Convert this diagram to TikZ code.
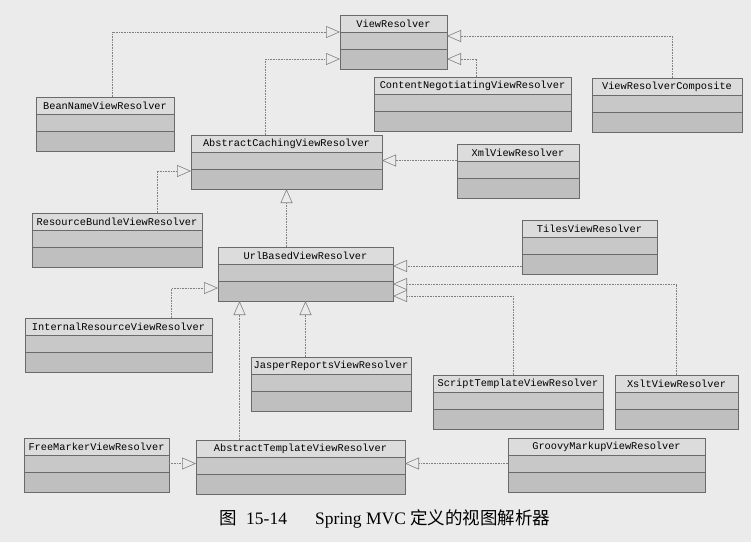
\documentclass[tikz,border=0pt]{standalone}
\usepackage{fontspec}
\setmainfont{Liberation Serif}
\setmonofont{Liberation Mono}
\newfontfamily\cjk{Noto Sans CJK SC}
\usetikzlibrary{positioning,arrows.meta}

\definecolor{paper}{HTML}{EBEBEB}
\definecolor{hdfill}{HTML}{DCDCDC}
\definecolor{mdfill}{HTML}{C8C8C8}
\definecolor{btfill}{HTML}{BFBFBF}
\definecolor{edge}{HTML}{6A6A6A}
\definecolor{link}{HTML}{808080}

% class box: name, left, top, width, label
\newcommand{\umlclass}[5]{%
  \node[hd, minimum width=#4pt, anchor=north west] (#1) at (#2,#3) {#5};
  \node[md, minimum width=#4pt, below=0pt of #1] (#1-m) {};
  \node[bt, minimum width=#4pt, below=0pt of #1-m] (#1-b) {};
}

\begin{document}
\begin{tikzpicture}[x=1pt, y=-1pt,
    font=\ttfamily\fontsize{10.3}{12}\selectfont,
    box/.style={draw=edge, line width=0.6pt, inner sep=0pt, outer sep=0pt},
    hd/.style={box, fill=hdfill, minimum height=17pt},
    md/.style={box, fill=mdfill, minimum height=17pt},
    bt/.style={box, fill=btfill, minimum height=20pt},
    gen/.style={draw=link, densely dotted, line width=0.6pt,
      -{Triangle[fill=paper, length=14pt, width=12pt]}}]
    \fill[paper] (0,0) rectangle (751,542);
    \useasboundingbox (0,0) rectangle (751,542);

    \umlclass{vr}{340}{15}{107}{ViewResolver}
    \umlclass{bn}{36}{97}{138}{BeanNameViewResolver}
    \umlclass{cn}{374}{77}{197}{ContentNegotiatingViewResolver}
    \umlclass{vrc}{592}{78}{150}{ViewResolverComposite}
    \umlclass{acv}{191}{135}{191}{AbstractCachingViewResolver}
    \umlclass{xml}{457}{144}{122}{XmlViewResolver}
    \umlclass{rb}{32}{213}{170}{ResourceBundleViewResolver}
    \umlclass{tiles}{522}{220}{135}{TilesViewResolver}
    \umlclass{ub}{218}{247}{175}{UrlBasedViewResolver}
    \umlclass{irv}{25}{318}{187}{InternalResourceViewResolver}
    \umlclass{jr}{251}{357}{160}{JasperReportsViewResolver}
    \umlclass{st}{433}{375}{170}{ScriptTemplateViewResolver}
    \umlclass{xs}{615}{375}{123}{XsltViewResolver}
    \umlclass{fm}{24}{438}{145}{FreeMarkerViewResolver}
    \umlclass{atv}{196}{440}{209}{AbstractTemplateViewResolver}
    \umlclass{gm}{508}{438}{197}{GroovyMarkupViewResolver}

    % ViewResolver
    \draw[gen] ([xshift=7pt]bn.north) |- (vr-m.north west);
    \draw[gen] ([xshift=-21pt]acv.north) |- (vr-b.west);
    \draw[gen] ([xshift=4pt]cn.north) |- (vr-b.east);
    \draw[gen] ([xshift=5pt]vrc.north) |- ([yshift=-4pt]vr-m.north east);

    % AbstractCachingViewResolver
    \draw[gen] ([xshift=40pt]rb.north) |- ([yshift=-2pt]acv-b.north west);
    \draw[gen] (xml.west |- acv-m.east) -- (acv-m.east);
    \draw[gen] (acv-b.south |- ub.north) -- (acv-b.south);

    % UrlBasedViewResolver
    \coordinate (ubT) at ([yshift=-2pt]ub-m.north east);
    \coordinate (ubA) at ([xshift=-66pt]ub-b.south);
    \draw[gen] ([xshift=53pt]irv.north) |- ([yshift=3pt]ub-b.west);
    \draw[gen] (tiles.west |- ubT) -- (ubT);
    \draw[gen] (xs.north) |- ([yshift=-3pt]ub-b.north east);
    \draw[gen] ([xshift=-5pt]st.north) |- ([yshift=-5pt]ub-b.east);
    \draw[gen] (jr.north -| ub-b.south) -- (ub-b.south);
    \draw[gen] (atv.north -| ubA) -- (ubA);

    % AbstractTemplateViewResolver
    \draw[gen] (fm-m.east) -- (fm-m.east -| atv.west);
    \draw[gen] (gm-m.west) -- (gm-m.west -| atv.east);

    \node[font=\rmfamily\fontsize{17.5}{20}\selectfont] (cap) at (385,519)
      {{\cjk 图}\hspace{9pt}15-14\hspace{28pt}Spring MVC {\cjk 定义的视图解析器}};
\end{tikzpicture}
\end{document}
